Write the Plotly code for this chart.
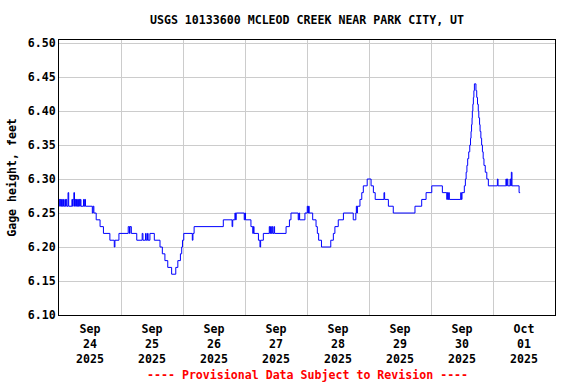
import pandas as pd
import plotly.graph_objects as go

# Change points of the gage height record: hours after 2025-09-24 00:00 and value (ft)
hours = [
    0.0, 0.25, 0.5, 0.75, 1.0, 1.25, 1.5, 1.75, 2.25, 2.5, 2.75, 3.0, 3.5, 3.75,
    5.0, 5.25, 5.5, 5.75, 6.0, 6.25, 6.5, 6.75, 7.0, 7.25, 7.5, 7.75, 8.0, 8.25,
    8.5, 9.5, 9.75, 10.0, 10.25,
    12.9, 13.2, 13.5, 14.4, 15.9, 17.2, 19.7, 21.4, 21.65, 23.2,
    26.8, 27.3, 27.5, 28.0, 30.1, 32.2, 32.5, 33.5, 33.75, 34.25, 34.5, 35.2, 36.9,
    39.1, 40.0, 41.0, 42.1, 43.6, 45.2, 46.0, 47.0, 47.5, 47.8, 48.3,
    51.6, 51.85, 52.3, 63.6, 67.0, 67.25, 68.1, 68.35, 68.6,
    71.7, 71.95, 72.2, 74.3, 75.0, 75.25, 75.5, 77.2, 77.8, 78.05, 79.1,
    81.4, 81.65, 81.9, 82.2, 82.5, 82.75, 83.2, 83.45, 87.9, 89.2, 89.8,
    92.6, 92.9, 93.15, 95.2, 96.1, 96.35, 96.6, 96.85,
    98.2, 99.5, 100.0, 100.5, 101.6, 105.2, 106.2, 106.8, 108.1, 110.1,
    113.9, 114.9, 115.1, 115.35, 115.5, 116.5, 117.2, 117.8, 119.3, 120.8, 121.7,
    122.4, 125.8, 126.05, 127.5, 129.4, 137.8, 140.4, 142.1, 144.3,
    148.4, 150.1, 150.35, 150.6, 150.85, 151.1, 155.5, 155.75, 156.0, 156.9,
    157.3, 157.6, 157.9, 158.2, 158.6, 159.0, 159.3, 159.5, 159.7, 159.9, 160.0,
    160.2, 160.4, 160.6, 160.8, 161.4, 161.7, 162.0, 162.3, 162.5, 162.8, 163.0,
    163.3, 163.6, 163.9, 164.2, 164.5, 165.0, 165.6, 166.2,
    169.7, 169.95, 173.0, 173.25, 173.5, 173.75, 174.6, 174.85, 175.1, 175.35,
    178.1, 178.5,
]
gage_ft = [
    6.27, 6.26, 6.27, 6.26, 6.27, 6.26, 6.27, 6.26, 6.27, 6.26, 6.27, 6.26, 6.28, 6.26,
    6.27, 6.26, 6.27, 6.28, 6.26, 6.27, 6.26, 6.27, 6.26, 6.27, 6.26, 6.27, 6.26, 6.27,
    6.26, 6.27, 6.26, 6.27, 6.26,
    6.25, 6.26, 6.25, 6.24, 6.23, 6.22, 6.21, 6.20, 6.21, 6.22,
    6.23, 6.22, 6.23, 6.22, 6.21, 6.22, 6.21, 6.22, 6.21, 6.22, 6.21, 6.22, 6.21,
    6.20, 6.19, 6.18, 6.17, 6.16, 6.17, 6.18, 6.19, 6.20, 6.21, 6.22,
    6.21, 6.22, 6.23, 6.24, 6.23, 6.24, 6.25, 6.24, 6.25,
    6.24, 6.25, 6.24, 6.23, 6.22, 6.23, 6.22, 6.21, 6.20, 6.21, 6.22,
    6.23, 6.22, 6.23, 6.22, 6.23, 6.22, 6.23, 6.22, 6.23, 6.24, 6.25,
    6.24, 6.25, 6.24, 6.25, 6.26, 6.25, 6.26, 6.25,
    6.24, 6.23, 6.22, 6.21, 6.20, 6.21, 6.22, 6.23, 6.24, 6.25,
    6.24, 6.25, 6.26, 6.25, 6.26, 6.27, 6.28, 6.29, 6.30, 6.29, 6.28,
    6.27, 6.28, 6.27, 6.26, 6.25, 6.26, 6.27, 6.28, 6.29,
    6.28, 6.27, 6.28, 6.27, 6.28, 6.27, 6.28, 6.27, 6.28, 6.29,
    6.30, 6.31, 6.32, 6.33, 6.34, 6.35, 6.36, 6.37, 6.38, 6.39, 6.40,
    6.41, 6.42, 6.43, 6.44, 6.43, 6.42, 6.41, 6.40, 6.39, 6.38, 6.37,
    6.36, 6.35, 6.34, 6.33, 6.32, 6.31, 6.30, 6.29,
    6.30, 6.29, 6.30, 6.29, 6.30, 6.29, 6.30, 6.29, 6.31, 6.29,
    6.28, 6.28,
]

day_ticks = ["2025-09-24 12:00", "2025-09-25 12:00", "2025-09-26 12:00", "2025-09-27 12:00",
             "2025-09-28 12:00", "2025-09-29 12:00", "2025-09-30 12:00", "2025-10-01 12:00"]
day_labels = ["Sep<br>24<br>2025", "Sep<br>25<br>2025", "Sep<br>26<br>2025", "Sep<br>27<br>2025",
              "Sep<br>28<br>2025", "Sep<br>29<br>2025", "Sep<br>30<br>2025", "Oct<br>01<br>2025"]
y_ticks = [6.10, 6.15, 6.20, 6.25, 6.30, 6.35, 6.40, 6.45, 6.50]

start = pd.Timestamp("2025-09-24 00:00")
times = start + pd.to_timedelta(hours, unit="h")

FONT = "DejaVu Sans Mono"
fig = go.Figure()
fig.add_trace(go.Scatter(x=times, y=gage_ft, mode="lines", line_shape="hv",
                         line=dict(color="#0000ff", width=1), showlegend=False,
                         hoverinfo="skip"))

fig.update_layout(
    width=576, height=384,
    margin=dict(l=59, r=21, t=40, b=69),
    paper_bgcolor="white", plot_bgcolor="white",
    font=dict(family=FONT, size=11.6, color="black", weight="bold"),
    title=dict(text="USGS 10133600 MCLEOD CREEK NEAR PARK CITY, UT", x=0.533, xanchor="center",
               y=1 - 20 / 384, yanchor="middle",
               font=dict(family=FONT, size=11.6, color="black", weight="bold")),
    showlegend=False,
)
fig.update_xaxes(
    type="date", range=["2025-09-24 00:00", "2025-10-02 00:00"],
    tickmode="array", tickvals=day_ticks, ticktext=day_labels, ticks="",
    ticklabelstandoff=3,
    showgrid=False, showline=True, linecolor="black", linewidth=1, mirror=True,
    minor=dict(dtick=86400000, tick0="2025-09-24 00:00", showgrid=True,
               gridcolor="#cccccc", gridwidth=1, ticks=""),
    zeroline=False, tickangle=0,
)
fig.update_yaxes(
    range=[6.10, 6.5045], tickmode="array", tickvals=y_ticks,
    ticktext=[f"{v:.2f}" for v in y_ticks], ticks="",
    showgrid=True, gridcolor="#cccccc", gridwidth=1,
    showline=True, linecolor="black", linewidth=1, mirror=True, zeroline=False,
    title=dict(text="Gage height, feet", standoff=8,
               font=dict(family=FONT, size=11.6, color="black", weight="bold")),
)
fig.add_annotation(text="---- Provisional Data Subject to Revision ----",
                   xref="paper", yref="paper", x=0.5, y=-(375 - 315) / 275,
                   xanchor="center", yanchor="middle", showarrow=False,
                   font=dict(family=FONT, size=11.6, color="red", weight="bold"))

fig.write_html("out.html", config={"displayModeBar": False},
               post_script="document.body.style.margin='0px';")
